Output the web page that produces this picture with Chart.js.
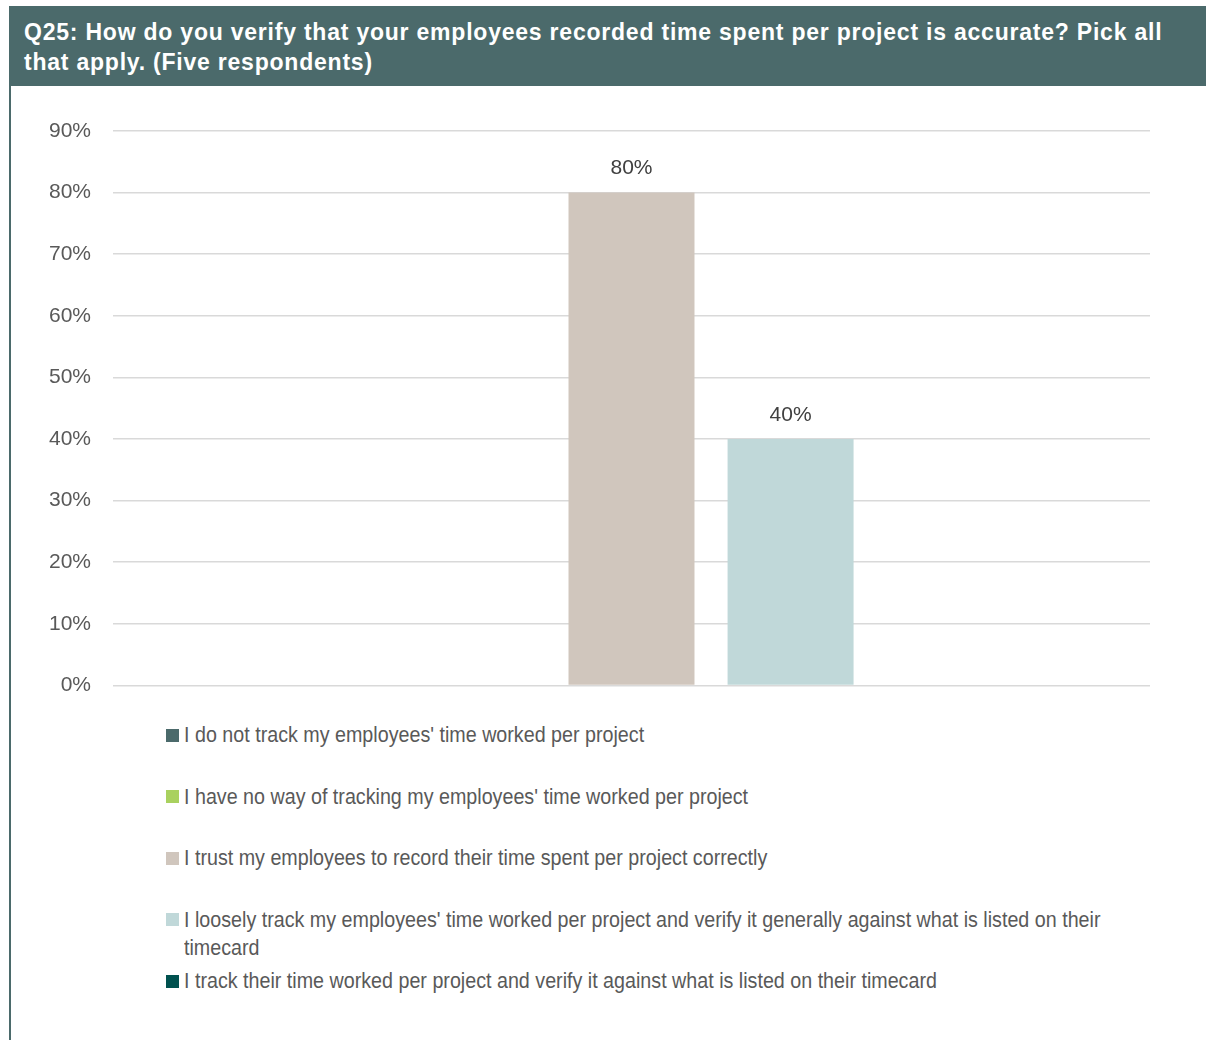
<!DOCTYPE html>
<html>
<head>
<meta charset="utf-8">
<script src="https://cdn.jsdelivr.net/npm/chart.js@4.4.0/dist/chart.umd.min.js"></script>
<style>
  html, body { margin: 0; padding: 0; background: #fff; }
  body { width: 1206px; height: 1040px; position: relative; overflow: hidden; font-family: "Liberation Sans", Arial, sans-serif; }
  #header { position: absolute; left: 9px; top: 6px; width: 1197px; height: 80px; background: #4b6a6b; }
  #title { position: absolute; left: 15px; top: 11px; width: 1165px; color: #fff; font-weight: bold; font-size: 23px; line-height: 30px; letter-spacing: 0.78px; }
  #leftline { position: absolute; left: 9px; top: 86px; width: 2px; height: 954px; background: #4b6a6b; }
  #wrap { position: absolute; left: 0; top: 86px; width: 1206px; height: 634px; }
  #legend { position: absolute; left: 166px; top: 721px; width: 960px; color: #595959; font-size: 22px; }
  .item { display: flex; height: 61.5px; line-height: 28px; }
  .box { width: 13px; height: 13px; margin-top: 7.5px; flex: none; }
  .txt { margin-left: 5px; width: 1050px; flex: none; transform: scaleX(0.895); transform-origin: left top; }
</style>
</head>
<body>
<div id="header"><div id="title">Q25: How do you verify that your employees recorded time spent per project is accurate? Pick all that apply. (Five respondents)</div></div>
<div id="leftline"></div>
<div id="wrap"><canvas id="chart"></canvas></div>
<div id="legend"></div>
<script>
const categories = [''];
const seriesNames = [
  "I do not track my employees' time worked per project",
  "I have no way of tracking my employees' time worked per project",
  "I trust my employees to record their time spent per project correctly",
  "I loosely track my employees' time worked per project and verify it generally against what is listed on their timecard",
  "I track their time worked per project and verify it against what is listed on their timecard"
];
const seriesValues = [0, 0, 80, 40, 0];
const seriesColors = ['#4b6a6b', '#a9d15f', '#d0c6bd', '#c0d8d9', '#00514f'];
const yTicks = [0, 10, 20, 30, 40, 50, 60, 70, 80, 90];

// value labels above bars (no datalabels plugin offline)
const barLabels = {
  id: 'barLabels',
  afterDatasetsDraw(chart) {
    const ctx = chart.ctx;
    ctx.save();
    ctx.fillStyle = '#404040';
    ctx.font = '21px "Liberation Sans", Arial';
    ctx.textAlign = 'center';
    ctx.textBaseline = 'middle';
    chart.data.datasets.forEach((ds, i) => {
      chart.getDatasetMeta(i).data.forEach((bar, j) => {
        const v = ds.data[j];
        if (!v) return;
        ctx.fillText(v + '%', bar.x, bar.y - 24);
      });
    });
    ctx.restore();
  }
};

const datasets = seriesNames.map((name, i) => ({
  label: name,
  data: [seriesValues[i]],
  backgroundColor: seriesColors[i],
  categoryPercentage: 0.767,
  barPercentage: 0.792
}));

new Chart(document.getElementById('chart').getContext('2d'), {
  type: 'bar',
  data: { labels: categories, datasets: datasets },
  options: {
    responsive: true,
    maintainAspectRatio: false,
    animation: false,
    layout: { padding: { left: 0, right: 56, top: 45, bottom: 15 } },
    plugins: { legend: { display: false }, tooltip: { enabled: false } },
    scales: {
      x: { display: false },
      y: {
        min: 0, max: 90,
        afterBuildTicks: s => { s.ticks = yTicks.map(v => ({ value: v })); },
        afterFit: s => { s.width = 113; },
        border: { display: false },
        grid: { color: '#d9d9d9', lineWidth: 1.5, drawTicks: false },
        ticks: {
          padding: 22,
          color: '#595959',
          font: { family: '"Liberation Sans", Arial', size: 21 },
          callback: v => v + '%'
        }
      }
    }
  },
  plugins: [barLabels]
});

// html legend so long entries can wrap
const legend = document.getElementById('legend');
seriesNames.forEach((name, i) => {
  const row = document.createElement('div');
  row.className = 'item';
  row.innerHTML = '<div class="box" style="background:' + seriesColors[i] + '"></div><div class="txt"></div>';
  row.querySelector('.txt').textContent = name;
  legend.appendChild(row);
});
</script>
</body>
</html>
